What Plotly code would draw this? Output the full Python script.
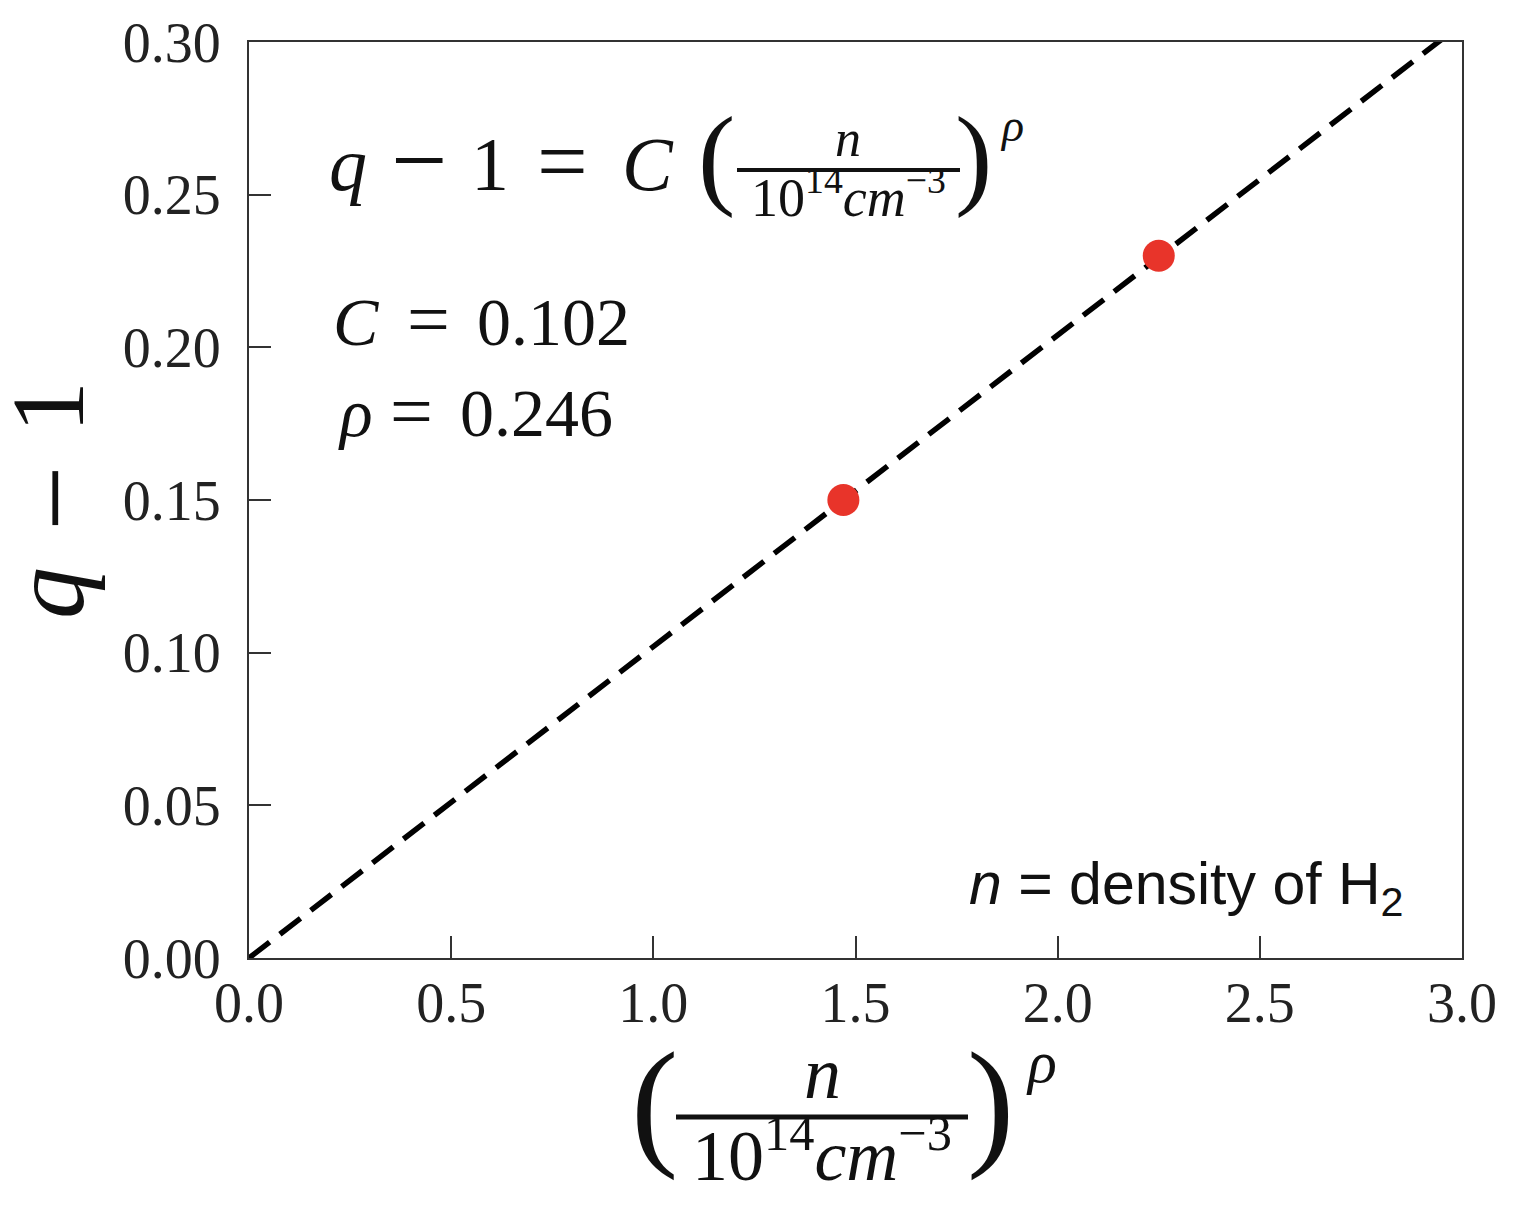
import plotly.graph_objects as go

# ---- data ----
fit_x = [0.0, 3.0]
fit_y = [0.0, 0.306]
pts_x = [1.47, 2.25]
pts_y = [0.150, 0.230]
x_ticks = [0.0, 0.5, 1.0, 1.5, 2.0, 2.5, 3.0]
x_ticklabels = ["0.0", "0.5", "1.0", "1.5", "2.0", "2.5", "3.0"]
y_ticks = [0.00, 0.05, 0.10, 0.15, 0.20, 0.25, 0.30]
y_ticklabels = ["0.00", "0.05", "0.10", "0.15", "0.20", "0.25", "0.30"]

OFF = 8  # default page body margin
PW, PH = 1518, 1224
W, H = PW - 2 * OFF, PH - 2 * OFF
L, R, T, B = 249, 1462, 42, 958  # plot area in page pixels
FS = "Liberation Serif"
FSANS = "Liberation Sans"
TXT = "#111111"


def px(x):
    return (x - L) / (R - L)


def py(y):
    return (B - y) / (B - T)


fig = go.Figure()
fig.add_trace(go.Scatter(x=fit_x, y=fit_y, mode="lines",
                         line=dict(color="black", width=5.5, dash="26px,13px"),
                         showlegend=False, hoverinfo="skip"))
fig.add_trace(go.Scatter(x=pts_x, y=pts_y, mode="markers",
                         marker=dict(color="#e8342a", size=32, line=dict(width=0)),
                         showlegend=False))


def ann(text, x, base, size, xa="center", family=FS, ya="bottom", desc=0.216, yval=None):
    yv = base + desc * size if yval is None else yval
    fig.add_annotation(text=text, x=px(x), y=py(yv), xref="paper", yref="paper",
                       xanchor=xa, yanchor=ya, showarrow=False,
                       font=dict(family=family, size=size, color=TXT))


def bar(x0, x1, y, w):
    fig.add_shape(type="line", xref="paper", yref="paper",
                  x0=px(x0), x1=px(x1), y0=py(y), y1=py(y),
                  line=dict(color=TXT, width=w))


# ---- equation in plot ----
s1 = 76
b1 = 192
ann("<i>q</i>", 348, b1, s1)
ann("\u2212", 419, 171 + 0.253 * 100, 100)
ann("1", 490, b1, s1)
ann("=", 562, 171 + 0.253 * 90, 90)
ann("<i>C</i>", 648, b1, s1)
ann("(", 716, 196, 112)
ann(")", 973, 196, 112)
ann("<i>n</i>", 848, 158, 52)
bar(737, 960, 170, 4)
ann("10<sup>14</sup><i>cm</i><sup>\u22123</sup>", 848, 218, 54)
ann("<i>\u03c1</i>", 1012, 143, 46)

s2 = 68
ann("<i>C</i>", 356, 347, s2)
ann("=", 428, 347, 76)
ann("0.102", 475, 347, s2, xa="left")
ann("<i>\u03c1</i>", 355, 438, s2)
ann("=", 411, 439, 76)
ann("0.246", 458, 438, s2, xa="left")

# ---- n = density of H2 ----
ann("<i>n</i> = density of H<sub>2</sub>", 1406, 902, 59, xa="right", family=FSANS,
    ya="top", yval=902 - 0.905 * 59)

# ---- x axis title ----
ann("(", 654, 1152, 142)
ann(")", 990, 1152, 142)
ann("<i>n</i>", 822, 1100, 74)
bar(676, 968, 1117, 5)
ann("10<sup>14</sup><i>cm</i><sup>\u22123</sup>", 822, 1182, 72)
ann("<i>\u03c1</i>", 1041, 1084, 60)


# ---- y axis title (rotated tokens) ----
def rot(text, xc, yc, size):
    fig.add_annotation(text=text, x=px(xc), y=py(yc), xref="paper", yref="paper",
                       xanchor="center", yanchor="middle", showarrow=False, textangle=-90,
                       font=dict(family=FS, size=size, color=TXT))


sy = 104
yb = 82  # baseline (right side of rotated glyphs)
rot("1", yb - 0.3375 * sy, 407, sy)
rot("\u2212", 55, 499, 116)
rot("<i>q</i>", yb - 0.3375 * sy, 593, sy)

axis_common = dict(showgrid=False, zeroline=False, showline=True, linecolor="#333333",
                   linewidth=2, mirror=True, ticks="inside", ticklen=22, tickwidth=1.5,
                   tickcolor="#333333", automargin=False,
                   tickfont=dict(family=FS, size=56, color="#222222"))

fig.update_xaxes(range=[0, 3], tickvals=x_ticks, ticktext=x_ticklabels,
                 ticklabelstandoff=-5, **axis_common)
fig.update_yaxes(range=[0, 0.30], tickvals=y_ticks, ticktext=y_ticklabels,
                 ticklabelstandoff=15, **axis_common)

fig.update_layout(width=W, height=H,
                  margin=dict(l=L - OFF, r=W - (R - OFF), t=T - OFF, b=H - (B - OFF),
                              autoexpand=False),
                  plot_bgcolor="white", paper_bgcolor="white", showlegend=False)

fig.write_html("out.html")
